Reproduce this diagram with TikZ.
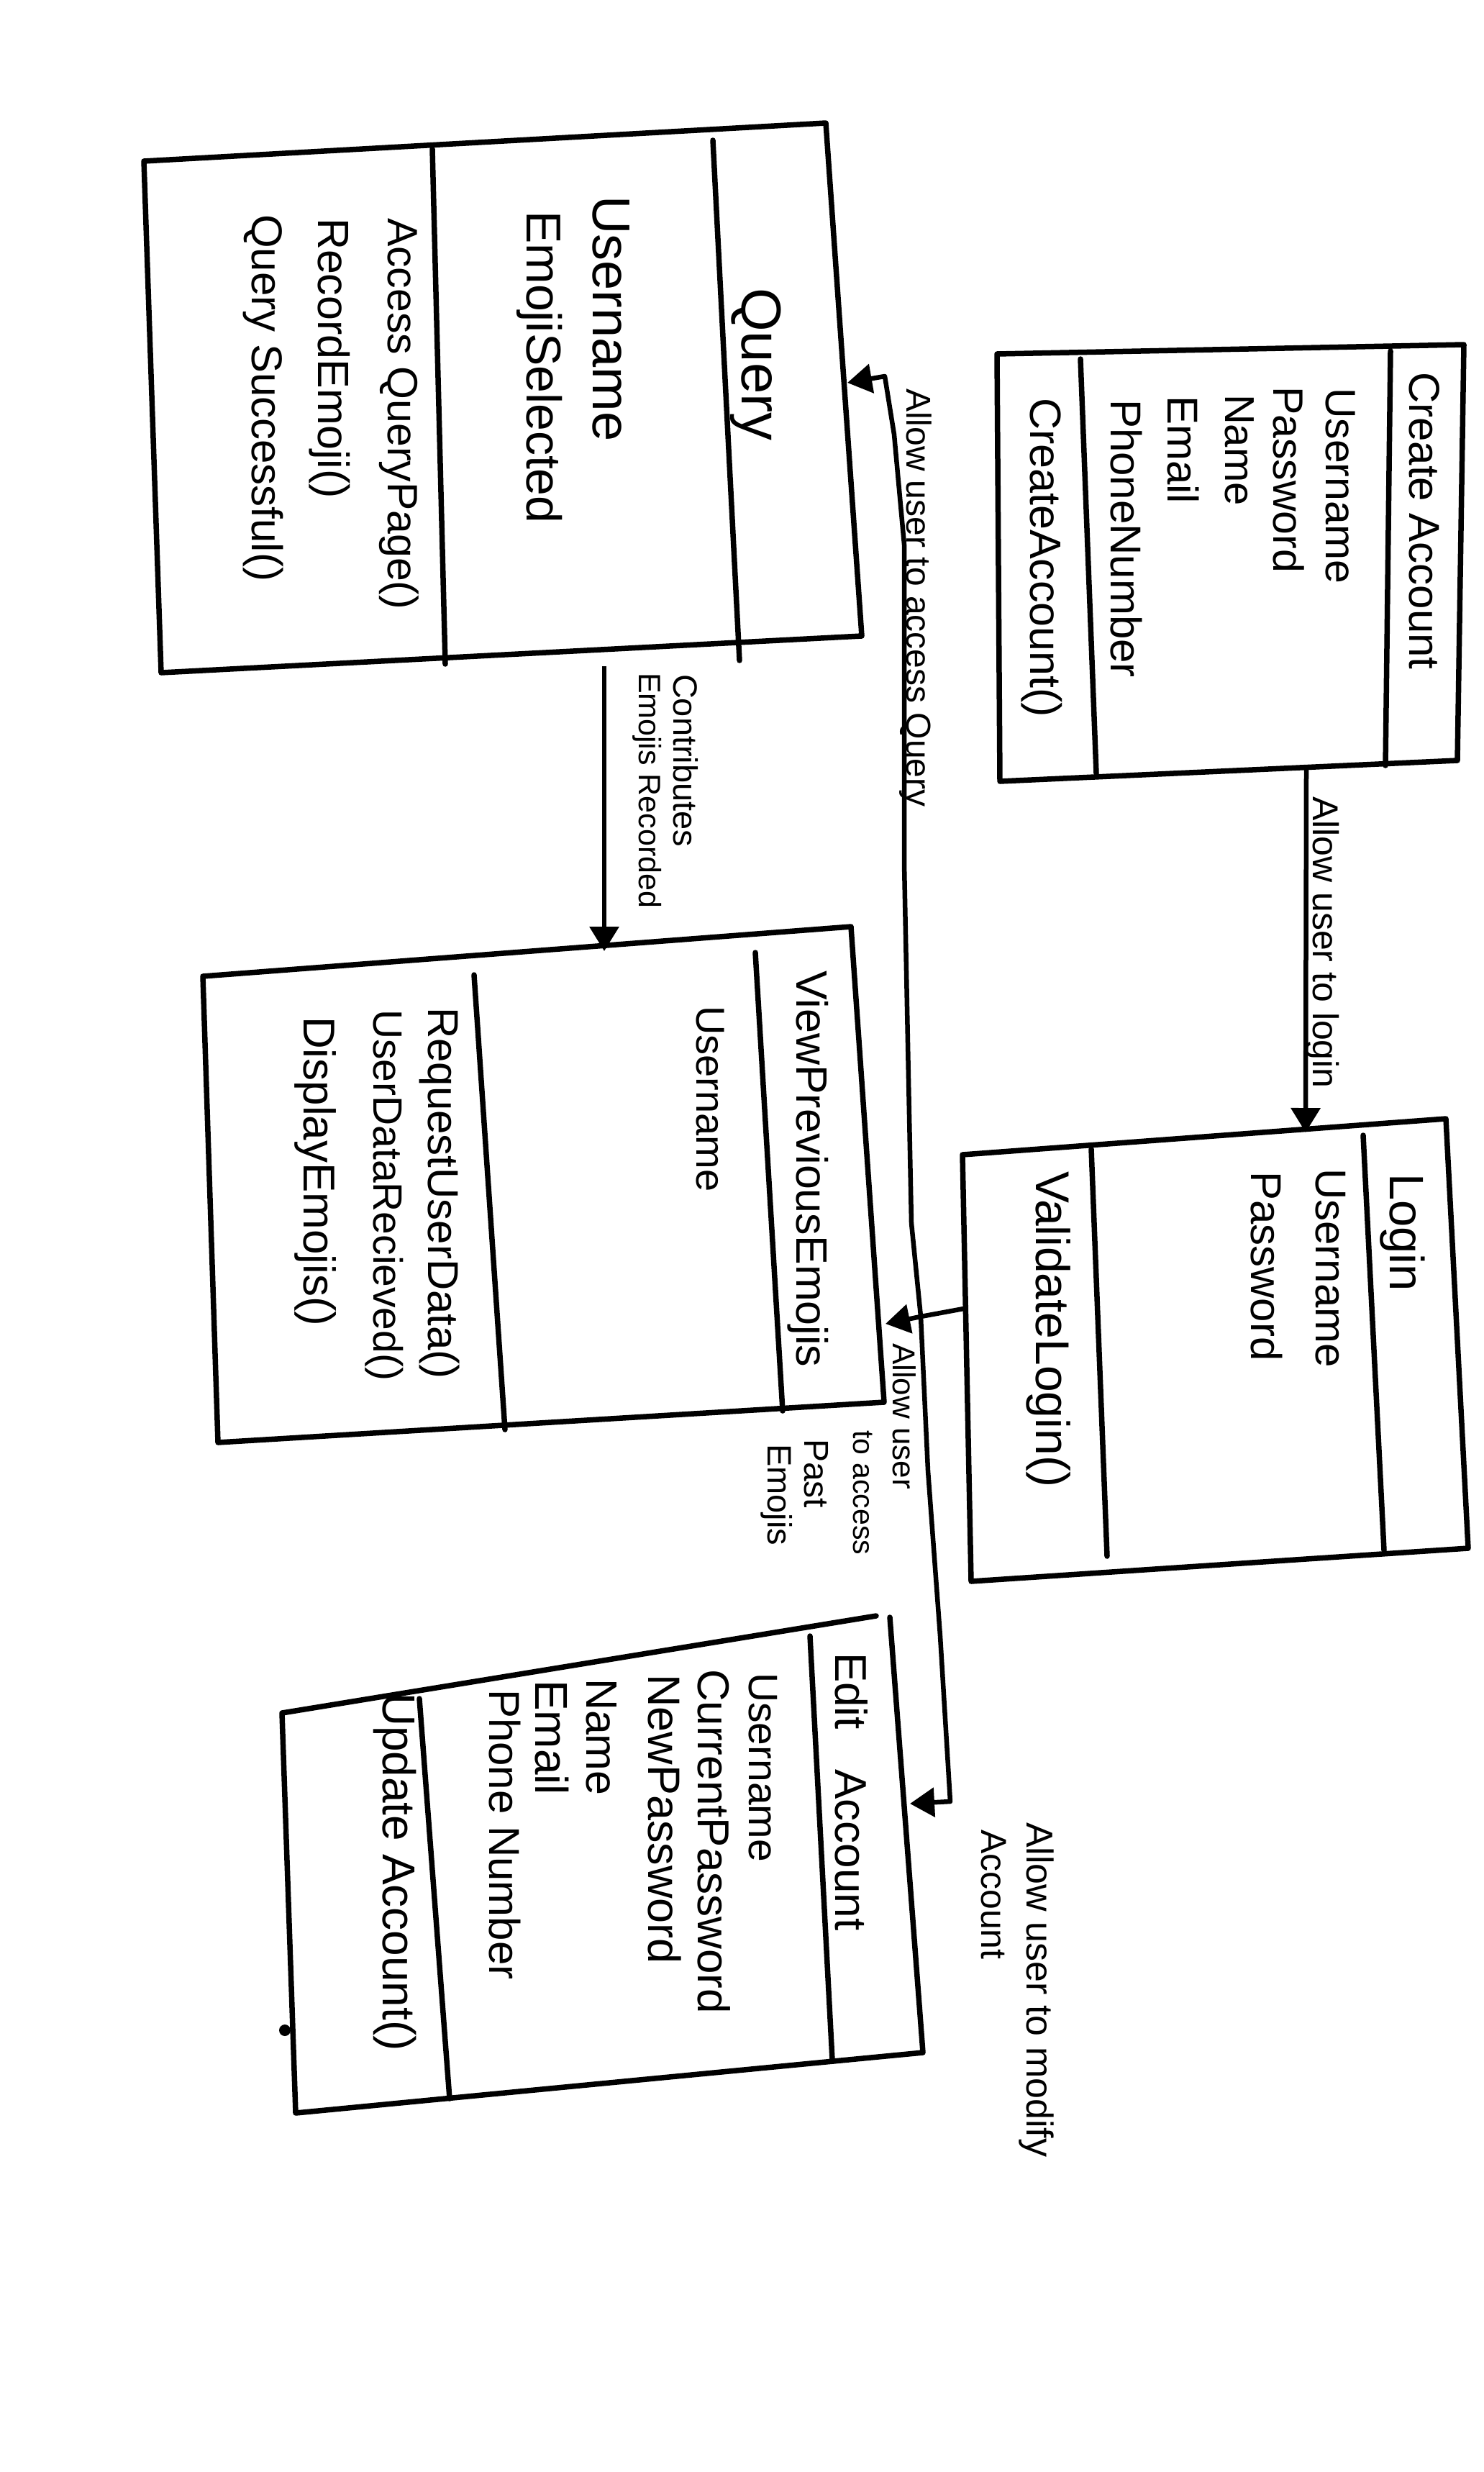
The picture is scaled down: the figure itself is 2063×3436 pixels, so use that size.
\documentclass[tikz,border=0pt]{standalone}
\usepackage{fontspec}
\setmainfont{Liberation Sans}
\usetikzlibrary{arrows.meta}
\newcommand{\fsz}[1]{\fontsize{#1}{#1}\selectfont}
\begin{document}
\begin{tikzpicture}[x=1pt,y=-1pt,
  edge/.style={line width=7.5pt, line cap=round, line join=round},
  link/.style={line width=6.5pt, line join=round,
    -{Triangle[length=34pt,width=40pt]}},
  txt/.style={rotate=-90, anchor=west, inner sep=0pt, outer sep=0pt},
]
\fill[white] (0,0) rectangle (2063,3436);
\useasboundingbox (0,0) rectangle (2063,3436);

% ---------- Query ----------
\coordinate (qTL) at (200,224);
\coordinate (qTR) at (1148,171);
\coordinate (qBR) at (1198,884);
\coordinate (qBL) at (224,935);
\draw[edge] (qTL) -- (qTR) -- (qBR) -- (qBL) -- cycle;
\draw[edge] (991,195) -- (1028,918);
\draw[edge] (601,207) -- (619,923);
\node[txt, font=\fsz{78}] (qT)  at (1051,400) {Query};
\node[txt, font=\fsz{74}] (qA1) at (850,272) {Username};
\node[txt, font=\fsz{68}] (qA2) at (750,293) {EmojiSelected};
\node[txt, font=\fsz{59}] (qM1) at (555,303) {Access QueryPage()};
\node[txt, font=\fsz{61}] (qM2) at (458,303) {RecordEmoji()};
\node[txt, font=\fsz{60}] (qM3) at (366,298) {Query Successful()};

% ---------- Create Account ----------
\coordinate (cTL) at (1386,492);
\coordinate (cTR) at (2035,479);
\coordinate (cBR) at (2026,1057);
\coordinate (cBL) at (1390,1086);
\draw[edge] (cTL) -- (cTR) -- (cBR) -- (cBL) -- cycle;
\draw[edge] (1933,488) -- (1926,1064);
\draw[edge] (1502,499) -- (1524,1075);
\node[txt, font=\fsz{60}] (cT)  at (1980,517) {Create Account};
\node[txt, font=\fsz{59}] (cA1) at (1863,539) {Username};
\node[txt, font=\fsz{59}] (cA2) at (1792,537) {Password};
\node[txt, font=\fsz{58}] (cA3) at (1723,548) {Name};
\node[txt, font=\fsz{60}] (cA4) at (1645,550) {Email};
\node[txt, font=\fsz{60}] (cA5) at (1566,555) {PhoneNumber};
\node[txt, font=\fsz{61}] (cM1) at (1448,553) {CreateAccount()};

% ---------- Login ----------
\coordinate (lTL) at (1338,1605);
\coordinate (lTR) at (2010,1555);
\coordinate (lBR) at (2041,2152);
\coordinate (lBL) at (1350,2198);
\draw[edge] (lTL) -- (lTR) -- (lBR) -- (lBL) -- cycle;
\draw[edge] (1895,1578) -- (1924,2155);
\draw[edge] (1517,1597) -- (1539,2163);
\node[txt, font=\fsz{67}] (lT)  at (1950,1631) {Login};
\node[txt, font=\fsz{60}] (lA1) at (1850,1624) {Username};
\node[txt, font=\fsz{60}] (lA2) at (1761,1628) {Password};
\node[txt, font=\fsz{66}] (lM1) at (1458,1628) {ValidateLogin()};

% ---------- ViewPreviousEmojis ----------
\coordinate (vTL) at (282,1357);
\coordinate (vTR) at (1183,1288);
\coordinate (vBR) at (1229,1949);
\coordinate (vBL) at (303,2005);
\draw[edge] (vTL) -- (vTR) -- (vBR) -- (vBL) -- cycle;
\draw[edge] (1050,1324) -- (1088,1961);
\draw[edge] (659,1355) -- (702,1987);
\node[txt, font=\fsz{61}] (vT)  at (1123,1349) {ViewPreviousEmojis};
\node[txt, font=\fsz{56}] (vA1) at (987,1398) {Username};
\node[txt, font=\fsz{60}] (vM1) at (611,1400) {RequestUserData()};
\node[txt, font=\fsz{57}] (vM2) at (534,1403) {UserDataRecieved()};
\node[txt, font=\fsz{62}] (vM3) at (439,1413) {DisplayEmojis()};

% ---------- Edit Account ----------
\coordinate (eTR0) at (1218,2246);
\coordinate (eTL) at (392,2381);
\coordinate (eBL) at (411,2937);
\coordinate (eBR) at (1283,2853);
\coordinate (eTR) at (1237,2248);
\draw[edge] (eTR0) -- (eTL) -- (eBL) -- (eBR) -- (eTR);
\draw[edge] (1126,2274) -- (1157,2863);
\draw[edge] (583,2361) -- (625,2917);
\fill (396,2822) circle (8pt);
\node[txt, font=\fsz{62}] (eT)  at (1184,2297) {Edit\hspace{0.9em}Account};
\node[txt, font=\fsz{57}] (eA1) at (1061,2325) {Username};
\node[txt, font=\fsz{62}] (eA2) at (993,2320) {CurrentPassword};
\node[txt, font=\fsz{63}] (eA3) at (924,2327) {NewPassword};
\node[txt, font=\fsz{61}] (eA4) at (836,2333) {Name};
\node[txt, font=\fsz{64}] (eA5) at (767,2335) {Email};
\node[txt, font=\fsz{60}] (eA6) at (702,2348) {Phone Number};
\node[txt, font=\fsz{64}] (eM1) at (549,2353) {Update Account()};

% ---------- connectors ----------
\coordinate (qOut) at (840,926);
\coordinate (vIn)  at (840,1322);
\draw[link] (qOut) -- (vIn);

\coordinate (cOut) at (1816,1070);
\coordinate (lIn)  at (1815,1574);
\draw[link] (cOut) -- (lIn);

\coordinate (lOut) at (1345,1818);
\coordinate (J)    at (1280,1830);
\coordinate (vIn2) at (1231,1840);
\draw[link] (lOut) -- (J) -- (vIn2);

\coordinate (tU1) at (1267,1700);
\coordinate (tU2) at (1257,1200);
\coordinate (tU3) at (1257,757);
\coordinate (tU4) at (1243,604);
\coordinate (tU5) at (1230,523);
\coordinate (qIn) at (1178,532);
\draw[link] (J) -- (tU1) -- (tU2) -- (tU3) -- (tU4) -- (tU5) -- (qIn);

\coordinate (tD1) at (1290,2044);
\coordinate (tD2) at (1307,2274);
\coordinate (tD3) at (1321,2504);
\coordinate (eIn) at (1265,2507);
\draw[link] (J) -- (tD1) -- (tD2) -- (tD3) -- (eIn);

% ---------- connector labels ----------
\node[txt, font=\fsz{50}] (lbLogin) at (1838,1107) {Allow user to login};
\node[txt, font=\fsz{48}] (lbQuery) at (1273,540) {Allow user to access Query};
\node[txt, font=\fsz{47}] (lbCon1) at (953,937) {Contributes};
\node[txt, font=\fsz{43}] (lbCon2) at (900,935) {Emojis Recorded};
\node[txt, font=\fsz{44}] (lbPast1) at (1257,1867) {Allow user};
\node[txt, font=\fsz{41}] (lbPast2) at (1200,1988) {to access};
\node[txt, font=\fsz{48}] (lbPast3) at (1135,2000) {Past};
\node[txt, font=\fsz{47}] (lbPast4) at (1080,2007) {Emojis};
\node[txt, font=\fsz{52}] (lbMod1) at (1441,2533) {Allow user to modify};
\node[txt, font=\fsz{50}] (lbMod2) at (1381,2543) {Account};
\end{tikzpicture}
\end{document}
